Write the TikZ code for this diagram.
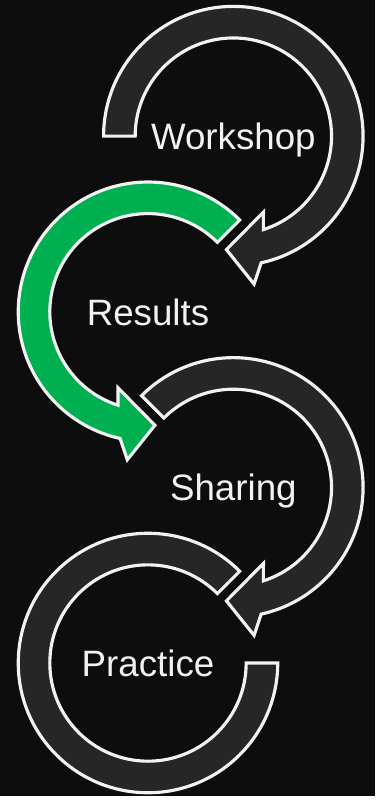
\documentclass[tikz,border=0pt]{standalone}
\usepackage{fontspec}
\setmainfont{Liberation Sans}
\usepackage{xcolor}
\usepackage{tikz}
\usetikzlibrary{positioning}
\definecolor{bgdark}{HTML}{0D0D0D}
\definecolor{ringgray}{HTML}{262626}
\definecolor{ringgreen}{HTML}{00B050}
\definecolor{edgewhite}{HTML}{F2F2F2}
\tikzstyle{ring} = [draw=edgewhite, line width=3.2pt, line join=miter, fill=ringgray]
\tikzstyle{greenring} = [ring, fill=ringgreen]
\tikzstyle{steplabel} = [text=edgewhite, font=\fontsize{37.2}{40}\selectfont, anchor=base, inner sep=0pt]

\begin{document}
\begin{tikzpicture}[x=1pt, y=1pt]
    % Background
    \fill[bgdark] (0,0) rectangle (380,807);
    % Place centres
    \coordinate (c1) at (236.5,669);
    \coordinate (c2) at (150,491);
    \coordinate (c3) at (236.5,313);
    \coordinate (c4) at (150,135);

    % Draw arrows
    \begin{scope}[shift={(c1)}]
        \path[ring] (180:131.5) arc[start angle=180, end angle=-77.6, radius=131.5]
            -- (21,-150) -- (-7,-115) -- (30.5,-77)
            -- (-72.2:99.5) arc[start angle=-72.2, end angle=180, radius=99.5] -- cycle;
    \end{scope}
    \begin{scope}[shift={(c2)}, xscale=-1]
        \path[greenring] (135:131.5) arc[start angle=135, end angle=-77.6, radius=131.5]
            -- (21,-150) -- (-7,-115) -- (30.5,-77)
            -- (-72.2:99.5) arc[start angle=-72.2, end angle=135, radius=99.5] -- cycle;
    \end{scope}
    \begin{scope}[shift={(c3)}]
        \path[ring] (135:131.5) arc[start angle=135, end angle=-77.6, radius=131.5]
            -- (21,-150) -- (-7,-115) -- (30.5,-77)
            -- (-72.2:99.5) arc[start angle=-72.2, end angle=135, radius=99.5] -- cycle;
    \end{scope}
    \begin{scope}[shift={(c4)}]
        \path[ring] (45:131.5) arc[start angle=45, end angle=360, radius=131.5]
            -- (0:99.5) arc[start angle=360, end angle=45, radius=99.5] -- cycle;
    \end{scope}

    % Place nodes
    \node[steplabel] (workshop) at ([yshift=-13.6pt]c1) {Workshop};
    \node[steplabel] (results) at ([yshift=-13.6pt]c2) {Results};
    \node[steplabel] (sharing) at ([yshift=-13.6pt]c3) {Sharing};
    \node[steplabel] (practice) at ([yshift=-13.6pt]c4) {Practice};
\end{tikzpicture}
\end{document}
